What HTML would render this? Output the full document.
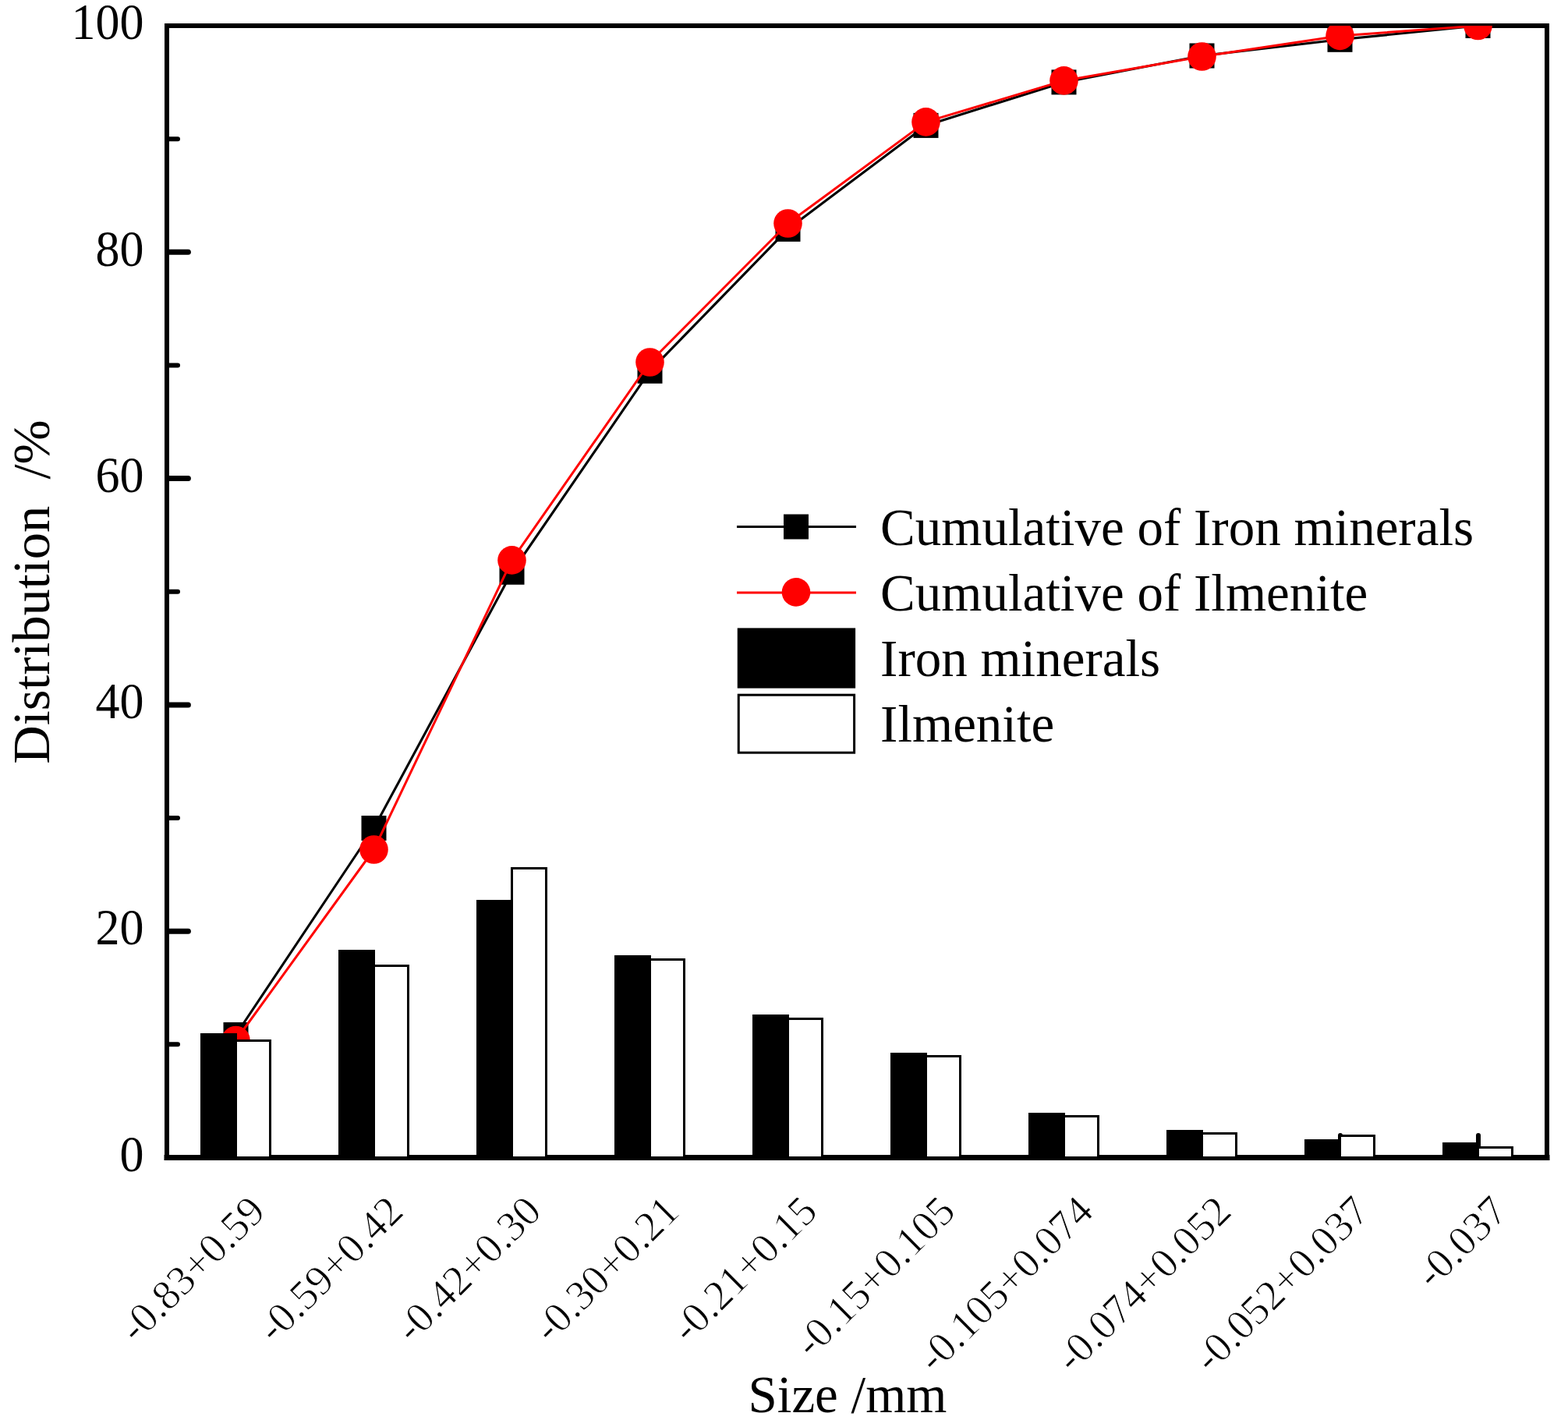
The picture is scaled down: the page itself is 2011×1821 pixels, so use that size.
<!DOCTYPE html><html><head><meta charset="utf-8"><title>Distribution chart</title>
<style>html,body{margin:0;padding:0;background:#fff;}svg{display:block;}text{font-family:"Liberation Serif","Times New Roman",serif;fill:#000;}</style></head><body>
<svg width="2011" height="1821" viewBox="0 0 2011 1821">
<rect x="0" y="0" width="2011" height="1821" fill="#fff"/>
<defs><clipPath id="pc"><rect x="214" y="33" width="1770" height="1457"/></clipPath></defs>
<g stroke="#000" fill="none" stroke-linecap="square">
<line x1="214" y1="33" x2="1984" y2="33" stroke-width="6"/>
<line x1="214" y1="33" x2="214" y2="1484.5" stroke-width="6"/>
<line x1="1984" y1="33" x2="1984" y2="1484.5" stroke-width="6"/>
<line x1="214" y1="1484.5" x2="1984" y2="1484.5" stroke-width="7"/>
</g>
<g stroke="#000" stroke-linecap="round">
<line x1="217" y1="1484.50" x2="241.4" y2="1484.50" stroke-width="7"/>
<line x1="217" y1="1339.35" x2="228" y2="1339.35" stroke-width="6"/>
<line x1="217" y1="1194.20" x2="241.4" y2="1194.20" stroke-width="7"/>
<line x1="217" y1="1049.05" x2="228" y2="1049.05" stroke-width="6"/>
<line x1="217" y1="903.90" x2="241.4" y2="903.90" stroke-width="7"/>
<line x1="217" y1="758.75" x2="228" y2="758.75" stroke-width="6"/>
<line x1="217" y1="613.60" x2="241.4" y2="613.60" stroke-width="7"/>
<line x1="217" y1="468.45" x2="228" y2="468.45" stroke-width="6"/>
<line x1="217" y1="323.30" x2="241.4" y2="323.30" stroke-width="7"/>
<line x1="217" y1="178.15" x2="228" y2="178.15" stroke-width="6"/>
<line x1="303.00" y1="1481" x2="303.00" y2="1456" stroke-width="6"/>
<line x1="480.00" y1="1481" x2="480.00" y2="1456" stroke-width="6"/>
<line x1="657.00" y1="1481" x2="657.00" y2="1456" stroke-width="6"/>
<line x1="834.00" y1="1481" x2="834.00" y2="1456" stroke-width="6"/>
<line x1="1011.00" y1="1481" x2="1011.00" y2="1456" stroke-width="6"/>
<line x1="1188.00" y1="1481" x2="1188.00" y2="1456" stroke-width="6"/>
<line x1="1365.00" y1="1481" x2="1365.00" y2="1456" stroke-width="6"/>
<line x1="1542.00" y1="1481" x2="1542.00" y2="1456" stroke-width="6"/>
<line x1="1719.00" y1="1481" x2="1719.00" y2="1456" stroke-width="6"/>
<line x1="1896.00" y1="1481" x2="1896.00" y2="1456" stroke-width="6"/>
</g>
<g clip-path="url(#pc)">
<polyline points="302.50,1327.00 479.50,1062.00 656.50,733.75 833.50,475.80 1010.50,293.85 1187.50,160.90 1364.50,105.40 1541.50,71.50 1718.50,50.80 1895.50,33.00" fill="none" stroke="#000" stroke-width="3.1" stroke-linejoin="round"/>
<rect x="286.50" y="1311.00" width="32" height="32" fill="#000"/>
<rect x="463.50" y="1046.00" width="32" height="32" fill="#000"/>
<rect x="640.50" y="717.75" width="32" height="32" fill="#000"/>
<rect x="817.50" y="459.80" width="32" height="32" fill="#000"/>
<rect x="994.50" y="277.85" width="32" height="32" fill="#000"/>
<rect x="1171.50" y="144.90" width="32" height="32" fill="#000"/>
<rect x="1348.50" y="89.40" width="32" height="32" fill="#000"/>
<rect x="1525.50" y="55.50" width="32" height="32" fill="#000"/>
<rect x="1702.50" y="34.80" width="32" height="32" fill="#000"/>
<rect x="1879.50" y="17.00" width="32" height="32" fill="#000"/>
<polyline points="302.50,1334.00 479.50,1089.50 656.50,718.40 833.50,464.50 1010.50,286.50 1187.50,156.40 1364.50,103.40 1541.50,72.50 1718.50,45.90 1895.50,33.00" fill="none" stroke="#f00" stroke-width="3" stroke-linejoin="round"/>
<circle cx="302.50" cy="1334.00" r="18.3" fill="#f00"/>
<circle cx="479.50" cy="1089.50" r="18.3" fill="#f00"/>
<circle cx="656.50" cy="718.40" r="18.3" fill="#f00"/>
<circle cx="833.50" cy="464.50" r="18.3" fill="#f00"/>
<circle cx="1010.50" cy="286.50" r="18.3" fill="#f00"/>
<circle cx="1187.50" cy="156.40" r="18.3" fill="#f00"/>
<circle cx="1364.50" cy="103.40" r="18.3" fill="#f00"/>
<circle cx="1541.50" cy="72.50" r="18.3" fill="#f00"/>
<circle cx="1718.50" cy="45.90" r="18.3" fill="#f00"/>
<circle cx="1895.50" cy="33.00" r="18.3" fill="#f00"/>
<rect x="258.50" y="1326.50" width="44.00" height="158.00" fill="#000" stroke="#000" stroke-width="3"/>
<rect x="302.50" y="1334.50" width="44.00" height="150.00" fill="#fff" stroke="#000" stroke-width="3"/>
<rect x="435.50" y="1219.50" width="44.00" height="265.00" fill="#000" stroke="#000" stroke-width="3"/>
<rect x="479.50" y="1238.50" width="44.00" height="246.00" fill="#fff" stroke="#000" stroke-width="3"/>
<rect x="612.50" y="1155.50" width="44.00" height="329.00" fill="#000" stroke="#000" stroke-width="3"/>
<rect x="656.50" y="1113.50" width="44.00" height="371.00" fill="#fff" stroke="#000" stroke-width="3"/>
<rect x="789.50" y="1226.50" width="44.00" height="258.00" fill="#000" stroke="#000" stroke-width="3"/>
<rect x="833.50" y="1230.50" width="44.00" height="254.00" fill="#fff" stroke="#000" stroke-width="3"/>
<rect x="966.50" y="1302.50" width="44.00" height="182.00" fill="#000" stroke="#000" stroke-width="3"/>
<rect x="1010.50" y="1306.50" width="44.00" height="178.00" fill="#fff" stroke="#000" stroke-width="3"/>
<rect x="1143.50" y="1351.50" width="44.00" height="133.00" fill="#000" stroke="#000" stroke-width="3"/>
<rect x="1187.50" y="1354.50" width="44.00" height="130.00" fill="#fff" stroke="#000" stroke-width="3"/>
<rect x="1320.50" y="1428.50" width="44.00" height="56.00" fill="#000" stroke="#000" stroke-width="3"/>
<rect x="1364.50" y="1431.50" width="44.00" height="53.00" fill="#fff" stroke="#000" stroke-width="3"/>
<rect x="1497.50" y="1450.50" width="44.00" height="34.00" fill="#000" stroke="#000" stroke-width="3"/>
<rect x="1541.50" y="1453.50" width="44.00" height="31.00" fill="#fff" stroke="#000" stroke-width="3"/>
<rect x="1674.50" y="1462.50" width="44.00" height="22.00" fill="#000" stroke="#000" stroke-width="3"/>
<rect x="1718.50" y="1456.50" width="44.00" height="28.00" fill="#fff" stroke="#000" stroke-width="3"/>
<rect x="1851.50" y="1466.50" width="44.00" height="18.00" fill="#000" stroke="#000" stroke-width="3"/>
<rect x="1895.50" y="1471.50" width="44.00" height="13.00" fill="#fff" stroke="#000" stroke-width="3"/>
</g>
<g font-size="62" text-anchor="end">
<text transform="translate(184.4,1501.70) scale(1,1.04)">0</text>
<text transform="translate(184.4,1211.40) scale(1,1.04)">20</text>
<text transform="translate(184.4,921.10) scale(1,1.04)">40</text>
<text transform="translate(184.4,630.80) scale(1,1.04)">60</text>
<text transform="translate(184.4,340.50) scale(1,1.04)">80</text>
<text transform="translate(184.4,50.20) scale(1,1.04)">100</text>
</g>
<g font-size="54.1" text-anchor="end" stroke="#fff" stroke-width="0.9">
<text transform="translate(343.00,1556.00) rotate(-45)" x="0" y="0">-0.83+0.59</text>
<text transform="translate(520.00,1556.00) rotate(-45)" x="0" y="0">-0.59+0.42</text>
<text transform="translate(697.00,1556.00) rotate(-45)" x="0" y="0">-0.42+0.30</text>
<text transform="translate(874.00,1556.00) rotate(-45)" x="0" y="0">-0.30+0.21</text>
<text transform="translate(1051.00,1556.00) rotate(-45)" x="0" y="0">-0.21+0.15</text>
<text transform="translate(1228.00,1556.00) rotate(-45)" x="0" y="0">-0.15+0.105</text>
<text transform="translate(1405.00,1556.00) rotate(-45)" x="0" y="0">-0.105+0.074</text>
<text transform="translate(1582.00,1556.00) rotate(-45)" x="0" y="0">-0.074+0.052</text>
<text transform="translate(1759.00,1556.00) rotate(-45)" x="0" y="0">-0.052+0.037</text>
<text transform="translate(1936.00,1556.00) rotate(-45)" x="0" y="0">-0.037</text>
</g>
<text x="959.5" y="1810.6" font-size="67">Size /mm</text>
<text transform="translate(63,977.9) rotate(-90)" x="-1.9" y="0" font-size="68.5" xml:space="preserve">Distribution  /%</text>
<line x1="945" y1="675.5" x2="1098" y2="675.5" stroke="#000" stroke-width="3"/>
<rect x="1005" y="659.5" width="32" height="32" fill="#000"/>
<line x1="945" y1="760" x2="1098" y2="760" stroke="#f00" stroke-width="3"/>
<circle cx="1021" cy="759.4" r="18.3" fill="#f00"/>
<rect x="945.75" y="805.4" width="151.35" height="77.2" fill="#000"/>
<rect x="947.25" y="891.2" width="148.35" height="74" fill="#fff" stroke="#000" stroke-width="3"/>
<g font-size="67">
<text x="1129.1" y="699.2">Cumulative of Iron minerals</text>
<text x="1129.1" y="783.2">Cumulative of Ilmenite</text>
<text x="1129.1" y="867.1">Iron minerals</text>
<text x="1129.1" y="951.1">Ilmenite</text>
</g>
</svg></body></html>
